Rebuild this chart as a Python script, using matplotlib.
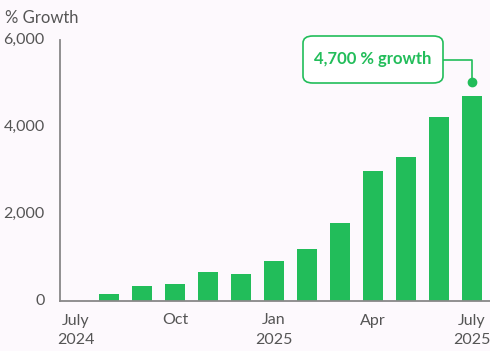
import matplotlib.pyplot as plt
from matplotlib.patches import FancyBboxPatch

months = ["Jul", "Aug", "Sep", "Oct", "Nov", "Dec", "Jan",
          "Feb", "Mar", "Apr", "May", "Jun", "Jul"]
growth = [0, 170, 345, 400, 660, 615, 910, 1200, 1800, 3000, 3320, 4220, 4720]
tick_pos = [0, 3, 6, 9, 12]
tick_labels = ["July\n2024", "Oct", "Jan\n2025", "Apr", "July\n2025"]
y_ticks = [0, 2000, 4000, 6000]

green = "#22bd5a"
grey_txt = "#555555"
bg = "#fdf9fd"

plt.rcParams['font.family'] = ['Lato', 'DejaVu Sans']

fig = plt.figure(figsize=(4.9, 3.51), dpi=100, facecolor=bg)
ax = fig.add_axes([60 / 490, 50 / 351, 430 / 490, 261 / 351])
ax.set_facecolor(bg)

x = list(range(len(months)))
ax.bar(x, growth, width=0.6, color=green, zorder=2)

ax.set_xlim(-0.485, 12.55)
ax.set_ylim(0, 6000)
ax.set_yticks(y_ticks)
ax.set_yticklabels([f"{v:,}" for v in y_ticks])
ax.set_xticks(tick_pos)
ax.set_xticklabels(tick_labels, linespacing=1.5)
ax.tick_params(axis='both', length=0, colors=grey_txt, labelsize=11.5)
ax.tick_params(axis='y', pad=11)
ax.tick_params(axis='x', pad=9)
for lbl in ax.get_yticklabels():
    lbl.set_verticalalignment('center')

for s in ['top', 'right']:
    ax.spines[s].set_visible(False)
ax.spines['left'].set_color('#888888')
ax.spines['bottom'].set_color('#888888')
ax.spines['left'].set_linewidth(1.3)
ax.spines['bottom'].set_linewidth(1.3)

fig.text(5 / 490, 1 - 18 / 351, "% Growth", color=grey_txt, fontsize=12,
         va='center', ha='left')

# annotation box + connector to last bar
last = len(growth) - 1
dot_y = 5030
ax.plot([last], [dot_y], 'o', color=green, markersize=6, zorder=4,
        clip_on=False)
ax.plot([10.8, last, last], [5540, 5540, dot_y], color=green, lw=1.2,
        zorder=3, clip_on=False)
box = FancyBboxPatch((303 / 490, 1 - 83 / 351), 140 / 490, 47 / 351,
                     boxstyle="round,pad=0,rounding_size=0.02",
                     transform=fig.transFigure, facecolor='white',
                     edgecolor=green, lw=1.2, zorder=5)
fig.patches.append(box)
fig.text(373 / 490, 1 - 59 / 351, "4,700 % growth",
         color=green, fontsize=12, fontweight='bold', ha='center',
         va='center', zorder=6)

fig.savefig("out.png", dpi=100, facecolor=bg)
